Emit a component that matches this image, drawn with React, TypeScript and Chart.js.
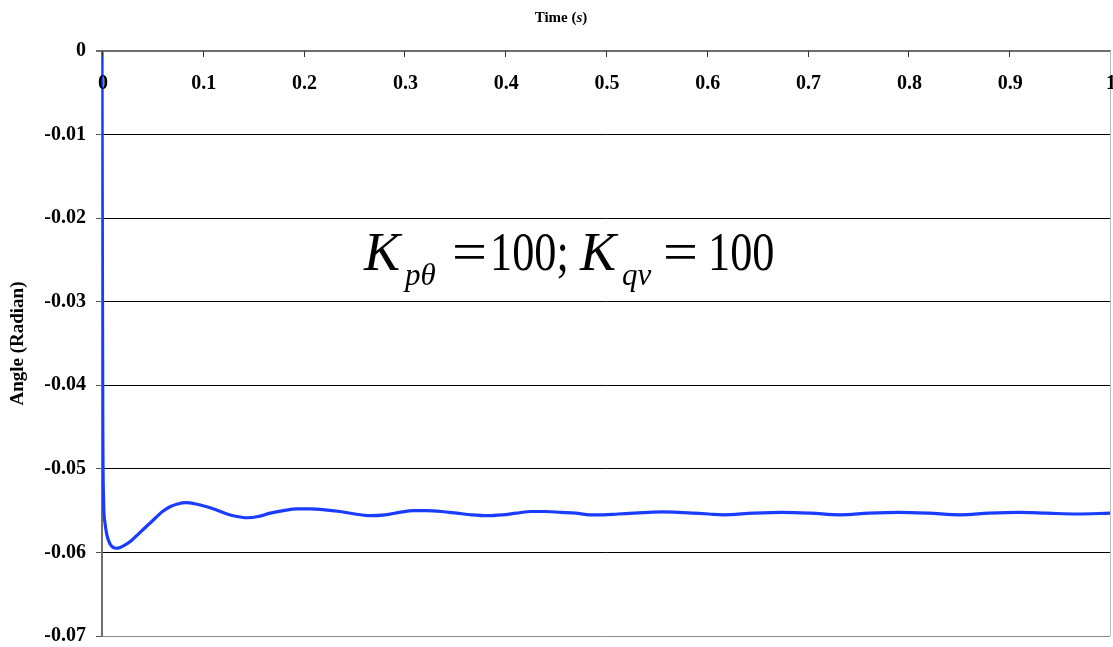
import { useEffect, useRef } from 'react';
import { Chart, registerables } from 'chart.js';

Chart.register(...registerables);

const timeS = [
  0, 0.0004, 0.0008, 0.0015, 0.003, 0.005, 0.008, 0.011, 0.014, 0.018, 0.023, 0.029, 0.036, 0.044, 0.052,
  0.06, 0.068, 0.075, 0.083, 0.093, 0.103, 0.113, 0.124, 0.134, 0.144, 0.155, 0.167, 0.18, 0.193, 0.206,
  0.221, 0.236, 0.251, 0.266, 0.281, 0.295, 0.309, 0.322, 0.337, 0.352, 0.367, 0.382, 0.397, 0.411, 0.426,
  0.44, 0.455, 0.47, 0.484, 0.497, 0.512, 0.527, 0.542, 0.557, 0.572, 0.587, 0.602, 0.616, 0.646, 0.675,
  0.703, 0.732, 0.761, 0.79, 0.82, 0.851, 0.88, 0.909, 0.938, 0.967, 1.0,
];

const angleRad = [
  0, -0.025, -0.045, -0.0535, -0.0565, -0.058, -0.059, -0.0594, -0.0595, -0.0594, -0.0591, -0.0586, -0.0578, -0.0569, -0.056,
  -0.0551, -0.0545, -0.0542, -0.05405, -0.0542, -0.0545, -0.0549, -0.0554, -0.0557, -0.05585, -0.0557, -0.0553, -0.055, -0.0548, -0.0548,
  -0.0549, -0.0551, -0.0554, -0.0556, -0.0555, -0.0552, -0.055, -0.0550, -0.0551, -0.0553, -0.0555, -0.0556, -0.0555, -0.0553, -0.0551,
  -0.0551, -0.0552, -0.0553, -0.0555, -0.0555, -0.0554, -0.0553, -0.0552, -0.05515, -0.0552, -0.0553, -0.0554, -0.0555, -0.0553, -0.0552,
  -0.0553, -0.0555, -0.0553, -0.0552, -0.0553, -0.0555, -0.0553, -0.0552, -0.0553, -0.0554, -0.0553,
];

const xTickValues = [0, 0.1, 0.2, 0.3, 0.4, 0.5, 0.6, 0.7, 0.8, 0.9, 1];
const xTickLabels = ['0', '0.1', '0.2', '0.3', '0.4', '0.5', '0.6', '0.7', '0.8', '0.9', '1'];
const yTickLabels = ['0', '-0.01', '-0.02', '-0.03', '-0.04', '-0.05', '-0.06', '-0.07'];
const xTitleText = 'Time (';
const xTitleUnit = 's';
const xTitleClose = ')';
const yTitleText = 'Angle (Radian)';

const SERIF = '"Liberation Serif", "Times New Roman", serif';

const overlayPlugin = {
  id: 'overlay',
  afterDraw(chart: any) {
    const { ctx, chartArea } = chart;
    const xs = chart.scales.x;
    const { left, right, top, bottom } = chartArea;
    ctx.save();
    // top axis line
    ctx.strokeStyle = '#6e6e6e';
    ctx.lineWidth = 2;
    ctx.beginPath();
    ctx.moveTo(left - 6, top);
    ctx.lineTo(right + 1, top);
    ctx.stroke();
    // inward ticks
    ctx.lineWidth = 1;
    ctx.strokeStyle = '#333';
    xTickValues.forEach((v) => {
      const px = Math.round(xs.getPixelForValue(v)) + 0.5;
      ctx.beginPath();
      ctx.moveTo(px, top);
      ctx.lineTo(px, top + 6);
      ctx.stroke();
    });
    // right border
    ctx.strokeStyle = '#bdbdbd';
    ctx.beginPath();
    ctx.moveTo(right + 0.5, top);
    ctx.lineTo(right + 0.5, bottom);
    ctx.stroke();
    // x tick labels (inside, below the top axis)
    ctx.fillStyle = '#000';
    ctx.font = `bold 20px ${SERIF}`;
    ctx.textAlign = 'center';
    ctx.textBaseline = 'middle';
    xTickValues.forEach((v, i) => {
      const px = xs.getPixelForValue(v);
      ctx.fillText(xTickLabels[i], px + 1, top + 33);
    });
    // x title
    ctx.textBaseline = 'alphabetic';
    ctx.textAlign = 'left';
    const fBold = `bold 15px ${SERIF}`;
    const fItal = `italic bold 15px ${SERIF}`;
    ctx.font = fBold;
    const w1 = ctx.measureText(xTitleText).width;
    const w3 = ctx.measureText(xTitleClose).width;
    ctx.font = fItal;
    const w2 = ctx.measureText(xTitleUnit).width;
    let tx = 561 - (w1 + w2 + w3) / 2;
    const ty = 22;
    ctx.font = fBold;
    ctx.fillText(xTitleText, tx, ty);
    tx += w1;
    ctx.font = fItal;
    ctx.fillText(xTitleUnit, tx, ty);
    tx += w2;
    ctx.font = fBold;
    ctx.fillText(xTitleClose, tx, ty);

    // annotation K_{pθ} = 100; K_{qv} = 100
    const base = 270;
    const sub = 285;
    const big = `54px ${SERIF}`;
    const bigI = `italic 54px ${SERIF}`;
    const small = `italic 31px ${SERIF}`;
    const pieces: [string, string, number, number][] = [
      ['K', bigI, 364, base],
      ['pθ', small, 405, sub],
      ['=', big, 452, base],
      ['100;', big, 490, base],
      ['K', bigI, 580, base],
      ['qv', small, 622, sub],
      ['=', big, 663, base],
      ['100', big, 708, base],
    ];
    pieces.forEach(([t, f, x, y]) => {
      ctx.font = f;
      if (t === '=') {
        const w = ctx.measureText(t).width;
        ctx.save();
        ctx.translate(x, y);
        ctx.scale(35 / w, 1);
        ctx.fillText(t, 0, 0);
        ctx.restore();
      } else if (t.startsWith('100')) {
        ctx.save();
        ctx.translate(x, y);
        ctx.scale(0.82, 1);
        ctx.fillText(t, 0, 0);
        ctx.restore();
      } else {
        ctx.fillText(t, x, y);
      }
    });
    ctx.restore();
  },
};

export default function App() {
  const ref = useRef<HTMLCanvasElement>(null);
  useEffect(() => {
    document.body.style.margin = '0';
    const chart = new Chart(ref.current as HTMLCanvasElement, {
      type: 'line',
      data: {
        datasets: [
          {
            data: timeS.map((t, i) => ({ x: t, y: angleRad[i] })),
            borderColor: '#1a3cff',
            borderWidth: 3.2,
            pointRadius: 0,
            cubicInterpolationMode: 'monotone',
            fill: false,
          },
        ],
      },
      options: {
        responsive: false,
        animation: false,
        layout: { padding: { top: 51, right: 3, bottom: 11, left: 0 } },
        plugins: { legend: { display: false }, tooltip: { enabled: false } },
        scales: {
          x: { type: 'linear', min: 0, max: 1, display: false },
          y: {
            min: -0.07,
            max: 0,
            afterFit: (s: any) => {
              s.width = 102;
              s.paddingTop = 0;
              s.paddingBottom = 0;
            },
            ticks: {
              stepSize: 0.01,
              color: '#000',
              padding: 10,
              font: { family: SERIF, weight: 'bold', size: 20 },
              callback: (v: any) => yTickLabels[Math.round(-Number(v) * 100)],
            },
            grid: {
              color: (c: any) => (c.index === 0 || c.index === 7 ? '#8a8a8a' : '#000'),
              lineWidth: 1,
              tickLength: 6,
              tickColor: '#555',
            },
            border: { color: '#6e6e6e', width: 2 },
            title: {
              display: true,
              text: yTitleText,
              color: '#000',
              font: { family: SERIF, weight: 'bold', size: 19 },
              padding: { top: 7, bottom: 0 },
            },
          },
        },
      },
      plugins: [overlayPlugin],
    });
    return () => chart.destroy();
  }, []);
  return (
    <div style={{ width: 1113, height: 647 }}>
      <canvas ref={ref} width={1113} height={647} style={{ display: 'block' }} />
    </div>
  );
}
